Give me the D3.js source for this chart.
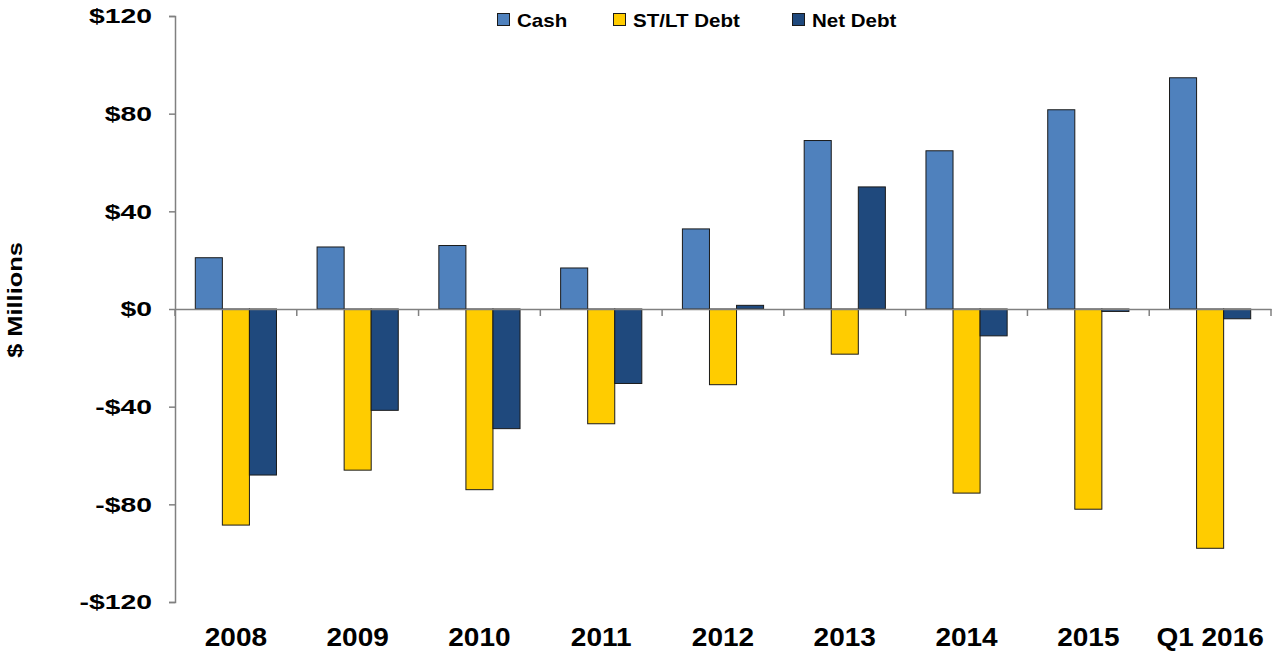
<!DOCTYPE html>
<html lang="en">
<head>
<meta charset="UTF-8">
<title>Cash, ST/LT Debt and Net Debt</title>
<script src="https://d3js.org/d3.v7.min.js"></script>
<style>
  body { margin: 0; background: #fff; }
  text { font-family: "Liberation Sans", Arial, sans-serif; font-weight: bold; fill: #000; }
</style>
</head>
<body>
<svg width="1275" height="653"></svg>
<script>
// Data
const categories = ['2008', '2009', '2010', '2011', '2012', '2013', '2014', '2015', 'Q1 2016'];
const cash    = [21, 25.4, 26, 16.8, 32.8, 69, 64.8, 81.6, 94.7];
const debt    = [-88.5, -66, -74, -47, -31, -18.5, -75.4, -82, -98];
const netDebt = [-68, -41.5, -49, -30.5, 1.5, 50, -11, -1, -4];
const seriesNames = ['Cash', 'ST/LT Debt', 'Net Debt'];
const yTicks = [-120, -80, -40, 0, 40, 80, 120];

const colors = ['#4F81BD', '#FFCC00', '#1F497D'];
const series = [cash, debt, netDebt];

const margin = {top: 16, right: 4, bottom: 51, left: 175};
const width = 1275 - margin.left - margin.right;
const height = 653 - margin.top - margin.bottom;

// stretch text horizontally like the original picture
function stretch(sel, f) {
  sel.each(function() {
    const len = this.getComputedTextLength();
    d3.select(this).attr('textLength', len * f).attr('lengthAdjust', 'spacingAndGlyphs');
  });
}

const svg = d3.select('svg')
  .append('g')
  .attr('transform', `translate(${margin.left},${margin.top})`);

const x = d3.scaleBand()
  .domain(categories)
  .range([0, width]);

// 150% gap between groups, split on both sides
const x1 = d3.scaleBand()
  .domain(d3.range(series.length))
  .range([0, x.bandwidth()])
  .paddingInner(0)
  .paddingOuter(0.75);

const y = d3.scaleLinear()
  .domain([-120, 120])
  .range([height, 0]);

// Bars
const rows = [];
categories.forEach((c, i) => {
  series.forEach((s, j) => rows.push({cat: c, k: j, v: s[i]}));
});

svg.selectAll('.bar')
  .data(rows)
  .enter()
  .append('rect')
  .attr('class', 'bar')
  .attr('x', d => x(d.cat) + x1(d.k))
  .attr('width', x1.bandwidth())
  .attr('y', d => y(Math.max(0, d.v)))
  .attr('height', d => Math.abs(y(d.v) - y(0)))
  .attr('fill', d => colors[d.k])
  .attr('stroke', '#1a1a1a')
  .attr('stroke-width', 1);

// Y axis
const yAxis = svg.append('g')
  .call(d3.axisLeft(y)
    .tickValues(yTicks)
    .tickSize(6)
    .tickPadding(17)
    .tickFormat(d => (d < 0 ? '-$' : '$') + Math.abs(d)));
yAxis.select('.domain').attr('stroke', '#808080').attr('stroke-width', 1.5);
yAxis.selectAll('.tick line').attr('stroke', '#808080').attr('stroke-width', 1.5);
yAxis.selectAll('text')
  .attr('font-family', null)
  .attr('font-size', null)
  .style('font-size', '21px')
  .call(stretch, 1.35);

// X axis along zero line
const xAxis = svg.append('g')
  .attr('transform', `translate(0,${y(0)})`)
  .call(d3.axisBottom(x).tickSize(0).tickFormat(''));
xAxis.select('.domain').attr('stroke', '#808080').attr('stroke-width', 1.5);
xAxis.selectAll('.tick').remove();

svg.append('g')
  .selectAll('line')
  .data(d3.range(categories.length + 1))
  .enter()
  .append('line')
  .attr('x1', i => i * x.step())
  .attr('x2', i => i * x.step())
  .attr('y1', y(0))
  .attr('y2', y(0) + 7)
  .attr('stroke', '#808080')
  .attr('stroke-width', 1.5);

// Category labels at the bottom
svg.append('g')
  .selectAll('text')
  .data(categories)
  .enter()
  .append('text')
  .attr('x', d => x(d) + x.bandwidth() / 2)
  .attr('y', height + 44)
  .attr('text-anchor', 'middle')
  .style('font-size', '25px')
  .text(d => d)
  .call(stretch, 1.12);

// Y axis title
svg.append('text')
  .attr('transform', `translate(${-153},${y(0) - 9}) rotate(-90)`)
  .attr('text-anchor', 'middle')
  .style('font-size', '20px')
  .text('$ Millions')
  .call(stretch, 1.27);

// Legend
const legendX = [497, 613, 792];
const legend = d3.select('svg').append('g');
seriesNames.forEach((n, i) => {
  legend.append('rect')
    .attr('x', legendX[i] + 0.5)
    .attr('y', 13.5)
    .attr('width', 12)
    .attr('height', 12)
    .attr('fill', colors[i])
    .attr('stroke', '#1a1a1a')
    .attr('stroke-width', 1);
  legend.append('text')
    .attr('x', legendX[i] + 20)
    .attr('y', 27)
    .style('font-size', '19px')
    .text(n)
    .call(stretch, 1.08);
});
</script>
</body>
</html>
